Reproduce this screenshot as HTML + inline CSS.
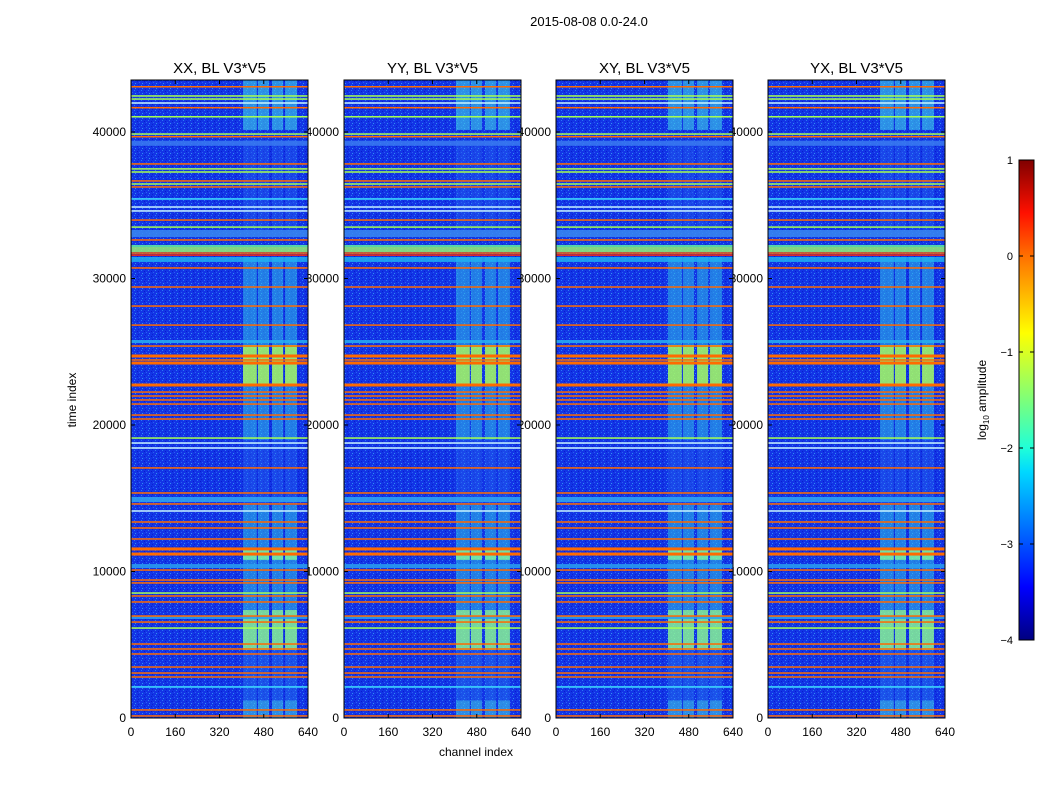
<!DOCTYPE html>
<html><head><meta charset="utf-8"><style>
body{margin:0;background:#fff;}
svg text{font-family:"Liberation Sans",sans-serif;fill:#000;}
</style></head><body>
<svg id="fig" width="1050" height="800" viewBox="0 0 1050 800" xmlns="http://www.w3.org/2000/svg">
<defs>
<linearGradient id="jet" x1="0" y1="1" x2="0" y2="0">
<stop offset="0" stop-color="#000080"/><stop offset="0.11" stop-color="#0000ff"/>
<stop offset="0.35" stop-color="#00d8ff"/><stop offset="0.4" stop-color="#20ffd8"/>
<stop offset="0.5" stop-color="#7dff7a"/><stop offset="0.64" stop-color="#ffff00"/>
<stop offset="0.8" stop-color="#ff7000"/><stop offset="0.89" stop-color="#ff1000"/>
<stop offset="1" stop-color="#800000"/></linearGradient>
<pattern id="noise" width="7" height="5" patternUnits="userSpaceOnUse">
<rect width="7" height="5" fill="#1234e6"/>
<rect x="1" y="0" width="1" height="1" fill="#2a78f4"/>
<rect x="4" y="1" width="1" height="1" fill="#0a1ccc"/>
<rect x="2" y="3" width="1" height="1" fill="#3090f0"/>
<rect x="5" y="4" width="1" height="1" fill="#0a20d0"/>
<rect x="6" y="2" width="1" height="1" fill="#2a60f0"/>
</pattern>
</defs>
<text x="589" y="26" font-size="13" text-anchor="middle">2015-08-08 0.0-24.0</text>
<g id="labels"></g>
<g id="panels"></g>
<text x="476" y="756" font-size="12" text-anchor="middle">channel index</text>
<text x="0" y="0" font-size="12" text-anchor="middle" transform="translate(76,400) rotate(-90)">time index</text>
<g>
<rect x="1019" y="160" width="15" height="480" fill="url(#jet)" stroke="#000" stroke-width="1"/>
<g id="cbticks"></g>
<text font-size="12" text-anchor="middle" transform="translate(986,400) rotate(-90)">log<tspan font-size="8" dy="3">10</tspan><tspan dy="-3"> amplitude</tspan></text>
</g>
</svg>
<script>
const panelTitles=["XX, BL V3*V5","YY, BL V3*V5","XY, BL V3*V5","YX, BL V3*V5"];
const xTicks=[0,160,320,480,640];
const yTicks=[0,10000,20000,30000,40000];
const cbTicks=[1,0,-1,-2,-3,-4];
const lineTimes=[43090,42460,42250,41980,41660,41040,39860,39680,37820,37480,37270,36660,36450,36250,35430,34880,34610,33990,33510,32630,31740,31600,30720,29420,28120,26820,25390,24710,24440,24230,22730,22250,21980,21710,21430,20680,20410,19110,18770,18430,17070,15360,14610,14130,13380,12970,12220,11540,11190,10100,9420,9220,8530,8330,7920,6960,6550,6140,5050,4710,4370,3480,3070,2800,2120,550,140];
const lineKinds=["o","g","g","w","o","g","g","o","o","g","g","o","g","o","c","w","w","o","g","o","o","r","o","o","o","o","o","T","o","T","T","o","o","o","o","o","o","g","w","w","o","o","o","w","o","o","o","T","T","o","o","o","g","o","o","o","o","g","o","o","o","o","o","o","c","o","o"];
const bandStarts=[39060,32830,32150,31810,31130,25600,14740,10240,6760];
const bandEnds=[39400,33310,32290,32150,31470,25800,15090,10510,6960];
const bandColors=["#3a7af0","#3a8af0","#60f0a0","#98f070","#20b0f0","#28b0f0","#30a8f0","#2aa0f0","#2aa0f0"];
const chanStarts=[405,459,510,557];
const chanEnds=[455,499,550,600];
const segStarts=[40140,33310,25460,22730,18980,14540,11600,10790,7370,4640,1200,0];
const segEnds=[43550,39470,31470,25460,22730,18980,14540,11600,10790,7370,4640,1200];
const segColors=["#40d0e8","#2a6cf0","#32bce8","#a8ff60","#32bce8","#2a70f0","#30c0e8","#80ffa0","#32bce8","#90ff90","#2a80f0","#40c8e8"];
const segOpacity=[0.6,0.35,0.55,0.85,0.55,0.35,0.55,0.85,0.55,0.8,0.4,0.6];
const kindColor={o:"#ff6a00",T:"#ff6a00",g:"#a8ff50",w:"#c8f4ff",c:"#40e0ff",r:"#ff2800"};
const NS="http://www.w3.org/2000/svg";
const lefts=[131,344,556,768],W=177,TOP=80,BOT=718,TMAX=43550;
const X=(i,c)=>lefts[i]+c/640*W;
const Y=t=>BOT-t/TMAX*(BOT-TOP);
function mk(tag,a,parent){const e=document.createElementNS(NS,tag);for(const k in a)e.setAttribute(k,a[k]);parent.appendChild(e);return e;}
const L=document.getElementById("labels"),P=document.getElementById("panels");
for(let i=0;i<4;i++){
  yTicks.forEach(v=>{const t=mk("text",{x:lefts[i]-5,y:Y(v)+4,"font-size":12,"text-anchor":"end"},L);t.textContent=v;
    
    });
  xTicks.forEach(v=>{const t=mk("text",{x:X(i,v),y:736,"font-size":12,"text-anchor":"middle"},L);t.textContent=v;
    
    });
  const g=mk("g",{},P);
  
  
  const tt=mk("text",{x:lefts[i]+W/2,y:73,"font-size":15,"text-anchor":"middle"},g);tt.textContent=panelTitles[i];
  
  
  mk("rect",{x:lefts[i],y:TOP,width:W,height:BOT-TOP,fill:"url(#noise)"},g);
  for(let s=0;s<segStarts.length;s++){
    for(let c=0;c<chanStarts.length;c++){
      const r=mk("rect",{x:X(i,chanStarts[c]),y:Y(segEnds[s]),width:X(i,chanEnds[c])-X(i,chanStarts[c]),height:Y(segStarts[s])-Y(segEnds[s]),fill:segColors[s],opacity:segOpacity[s]},g);
      
      
    }
  }
  for(let b=0;b<bandStarts.length;b++){
    const r=mk("rect",{x:lefts[i],y:Y(bandEnds[b]),width:W,height:Y(bandStarts[b])-Y(bandEnds[b]),fill:bandColors[b],opacity:0.85},g);
    
    
  }
  lineTimes.forEach((t,k)=>{const kind=lineKinds[k]||"o";const h=kind==="T"?3:1.5;
    const r=mk("rect",{x:lefts[i],y:Y(t)-h/2,width:W,height:h,fill:kindColor[kind]},g);
    
    });
  mk("rect",{x:lefts[i],y:TOP,width:W,height:BOT-TOP,fill:"none",stroke:"#000","stroke-width":1},g);
  xTicks.forEach(v=>{mk("line",{x1:X(i,v),x2:X(i,v),y1:BOT,y2:BOT-4,stroke:"#000"},g);mk("line",{x1:X(i,v),x2:X(i,v),y1:TOP,y2:TOP+4,stroke:"#000"},g);});
  yTicks.forEach(v=>{mk("line",{x1:lefts[i],x2:lefts[i]+4,y1:Y(v),y2:Y(v),stroke:"#000"},g);mk("line",{x1:lefts[i]+W,x2:lefts[i]+W-4,y1:Y(v),y2:Y(v),stroke:"#000"},g);});
}
const CB=document.getElementById("cbticks");
cbTicks.forEach(v=>{const y=160+(1-v)/5*480;
  const t=mk("text",{x:1013,y:y+4,"font-size":11,"text-anchor":"end"},CB);t.textContent=v<0?"\u2212"+(-v):v;
  
  
  mk("line",{x1:1019,x2:1023,y1:y,y2:y,stroke:"#000"},CB);mk("line",{x1:1034,x2:1030,y1:y,y2:y,stroke:"#000"},CB);});
</script>
</body></html>
